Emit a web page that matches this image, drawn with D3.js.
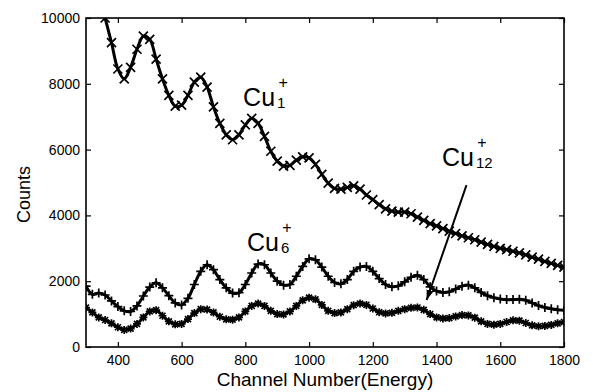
<!DOCTYPE html>
<html>
<head>
<meta charset="utf-8">
<script src="https://cdn.jsdelivr.net/npm/d3@7"></script>
<style>
  body { margin: 0; background: #fff; }
  text { font-family: "Liberation Sans", Arial, sans-serif; fill: #000; }
</style>
</head>
<body>
<div id="container"></div>
<script>
/* DATA */
const channelsCu1 = d3.range(340, 1801, 20)
const countsCu1 = [10700, 10000, 9250, 8450, 8150, 8500, 9050, 9450, 9350, 8750,
  8150, 7650, 7320, 7350, 7650, 8050, 8200, 7900, 7300, 6800,
  6450, 6300, 6450, 6750, 6950, 6800, 6400, 5950, 5650, 5500,
  5520, 5680, 5780, 5750, 5550, 5250, 4980, 4820, 4800, 4850,
  4900, 4800, 4620, 4480, 4330, 4200, 4130, 4100, 4100, 4050,
  3950, 3850, 3750, 3680, 3600, 3520, 3450, 3380, 3320, 3260,
  3190, 3120, 3060, 3000, 2960, 2910, 2860, 2800, 2730, 2670,
  2600, 2540, 2480, 2430]

const channels = d3.range(300, 1801, 20)
const countsCu6 = [1850, 1600, 1640, 1580, 1400, 1230, 1100, 1080, 1250, 1550,
  1820, 1950, 1800, 1560, 1340, 1280, 1480, 1900, 2300, 2500,
  2350, 2050, 1800, 1640, 1650, 1900, 2250, 2520, 2500, 2250,
  2000, 1880, 1900, 2150, 2450, 2680, 2650, 2430, 2150, 1960,
  1920, 2050, 2300, 2430, 2450, 2300, 2080, 1900, 1830, 1860,
  1980, 2120, 2180, 2050, 1830, 1700, 1660, 1680, 1760, 1850,
  1880, 1800, 1660, 1560, 1500, 1460, 1440, 1440, 1450, 1420,
  1340, 1260, 1200, 1160, 1130, 1120]
const countsCu12 = [1200, 1050, 900, 820, 720, 600, 520, 560, 700, 900,
  1080, 1120, 950, 780, 690, 700, 850, 1030, 1150, 1140,
  1050, 920, 840, 830, 900, 1080, 1250, 1320, 1250, 1100,
  1000, 990, 1080, 1250, 1420, 1500, 1450, 1280, 1100, 1030,
  1050, 1150, 1270, 1320, 1280, 1170, 1060, 1020, 1040, 1100,
  1150, 1190, 1200, 1130, 1000, 900, 870, 880, 930, 970,
  960, 890, 780, 700, 680, 700, 760, 810, 800, 730,
  660, 630, 640, 670, 720, 760]

const xTicks = [400, 600, 800, 1000, 1200, 1400, 1600, 1800]
const yTicks = [0, 2000, 4000, 6000, 8000, 10000]

// labels: [channel, counts, subscript]
const labels = [
  { x: 793, y: 7325, sub: "1" },
  { x: 805, y: 2927, sub: "6" },
  { x: 1417, y: 5502, sub: "12" }
]
const arrowFrom = [1494, 4920]
const arrowTo = [1369, 1430]

/* CONSTANTS */
const width = 593, height = 392
const margin = { top: 18, right: 29, bottom: 45, left: 86 }

const svg = d3.select("#container")
  .append("svg")
  .attr("width", width)
  .attr("height", height)

/* SCALES */
const x = d3.scaleLinear()
  .domain([300, 1800])
  .range([margin.left, width - margin.right])

const y = d3.scaleLinear()
  .domain([0, 10000])
  .range([height - margin.bottom, margin.top])

svg.append("clipPath")
  .attr("id", "plot")
  .append("rect")
  .attr("x", x(300))
  .attr("y", y(10000))
  .attr("width", x(1800) - x(300))
  .attr("height", y(0) - y(10000))

/* AXES */
const axisStyle = g => {
  g.select(".domain").remove()
  g.selectAll(".tick line").attr("stroke", "#000").attr("stroke-width", 1.2)
  g.selectAll("text").attr("font-size", 14).attr("fill", "#000")
    .attr("font-family", "'Liberation Sans', Arial, sans-serif")
}

svg.append("g")
  .attr("transform", `translate(0,${y(0)})`)
  .call(d3.axisBottom(x).tickValues(xTicks).tickSize(-5).tickSizeOuter(0).tickPadding(8).tickFormat(d3.format("d")))
  .call(axisStyle)

svg.append("g")
  .attr("transform", `translate(0,${y(10000)})`)
  .call(d3.axisTop(x).tickValues(xTicks).tickSize(-5).tickSizeOuter(0).tickFormat(""))
  .call(axisStyle)

svg.append("g")
  .attr("transform", `translate(${x(300)},0)`)
  .call(d3.axisLeft(y).tickValues(yTicks).tickSize(-5).tickSizeOuter(0).tickPadding(6).tickFormat(d3.format("d")))
  .call(axisStyle)

svg.append("g")
  .attr("transform", `translate(${x(1800)},0)`)
  .call(d3.axisRight(y).tickValues(yTicks).tickSize(-5).tickSizeOuter(0).tickFormat(""))
  .call(axisStyle)

svg.append("rect")
  .attr("x", x(300))
  .attr("y", y(10000))
  .attr("width", x(1800) - x(300))
  .attr("height", y(0) - y(10000))
  .attr("fill", "none")
  .attr("stroke", "#000")
  .attr("stroke-width", 1.6)

svg.append("text")
  .attr("x", (x(300) + x(1800)) / 2)
  .attr("y", 386)
  .attr("text-anchor", "middle")
  .attr("font-size", 19)
  .text("Channel Number(Energy)")

svg.append("text")
  .attr("transform", `translate(30,${(y(0) + y(10000)) / 2 + 12}) rotate(-90)`)
  .attr("text-anchor", "middle")
  .attr("font-size", 18)
  .text("Counts")

/* SERIES */
const plot = svg.append("g").attr("clip-path", "url(#plot)")

const markers = {
  cross: "M-4.5,-4.5L4.5,4.5M-4.5,4.5L4.5,-4.5",
  plus: "M-4.5,0H4.5M0,-4.5V4.5",
  star: "M-4,0H4M0,-4V4M-3,-3L3,3M-3,3L3,-3"
}

const series = [
  { xs: channelsCu1, ys: countsCu1, marker: markers.cross },
  { xs: channels, ys: countsCu6, marker: markers.plus },
  { xs: channels, ys: countsCu12, marker: markers.star }
]

const line = d3.line()
  .x(d => x(d[0]))
  .y(d => y(d[1]))
  .curve(d3.curveCatmullRom)

series.forEach(s => {
  const pts = s.xs.map((c, i) => [c, s.ys[i]])
  plot.append("path")
    .attr("d", line(pts))
    .attr("fill", "none")
    .attr("stroke", "#000")
    .attr("stroke-width", 3)

  plot.selectAll(null)
    .data(pts)
    .join("path")
    .attr("d", s.marker)
    .attr("transform", d => `translate(${x(d[0])},${y(d[1])})`)
    .attr("fill", "none")
    .attr("stroke", "#000")
    .attr("stroke-width", 1.7)
})

/* LABELS */
labels.forEach(l => {
  const g = svg.append("g")
    .attr("transform", `translate(${x(l.x)},${y(l.y)})`)
  const main = g.append("text")
    .attr("font-size", 25)
    .attr("fill", "#000")
    .text("Cu")
  const w = main.node().getComputedTextLength()
  g.append("text")
    .attr("x", w + 2)
    .attr("y", 2)
    .attr("font-size", 15)
    .attr("fill", "#000")
    .text(l.sub)
  g.append("text")
    .attr("x", w + 8)
    .attr("y", -18)
    .attr("text-anchor", "middle")
    .attr("font-size", 16)
    .attr("fill", "#000")
    .text("+")
})

/* ARROW */
svg.append("defs")
  .append("marker")
  .attr("id", "head")
  .attr("viewBox", "0 0 10 10")
  .attr("refX", 10)
  .attr("refY", 5)
  .attr("markerWidth", 5)
  .attr("markerHeight", 5)
  .attr("orient", "auto")
  .append("path")
  .attr("d", "M0,1.5L10,5L0,8.5Z")
  .attr("fill", "#000")

svg.append("line")
  .attr("x1", x(arrowFrom[0]))
  .attr("y1", y(arrowFrom[1]))
  .attr("x2", x(arrowTo[0]))
  .attr("y2", y(arrowTo[1]))
  .attr("stroke", "#000")
  .attr("stroke-width", 2)
  .attr("marker-end", "url(#head)")
</script>
</body>
</html>
